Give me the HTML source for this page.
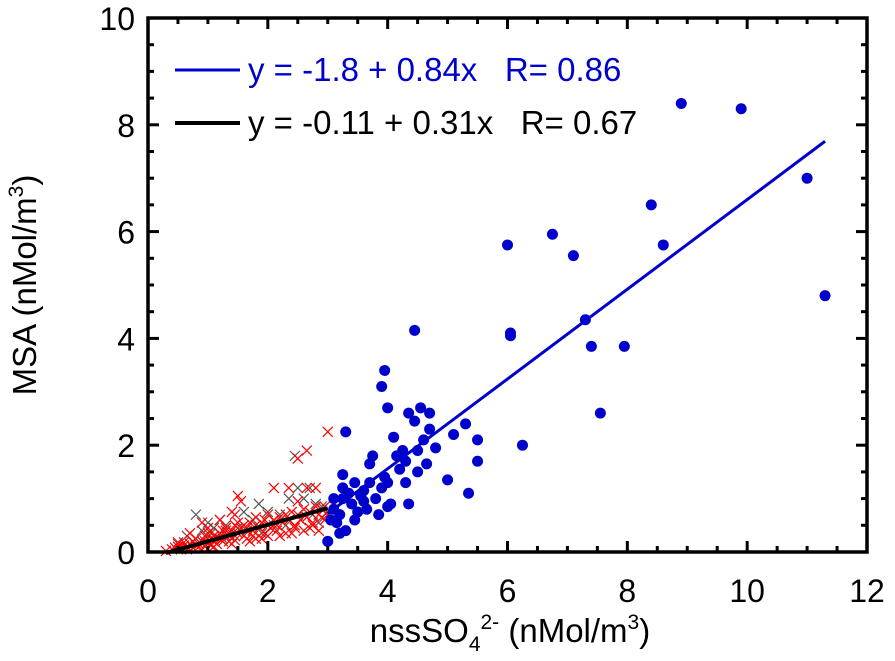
<!DOCTYPE html>
<html><head><meta charset="utf-8"><style>
body{margin:0;background:#fff}
svg{display:block;font-family:"Liberation Sans",sans-serif}
</style></head><body>
<svg id="chart" width="895" height="661">
<g id="marks"></g>
<g id="axes"></g>
<text x="36" y="285" font-size="33" text-anchor="middle" transform="rotate(-90 36 285)">MSA (nMol/m<tspan font-size="21" dy="-13">3</tspan><tspan dy="13">)</tspan></text>
<text x="510" y="642" font-size="33" text-anchor="middle">nssSO<tspan font-size="21" dy="9">4</tspan><tspan font-size="21" dy="-22">2-</tspan><tspan dy="13"> (nMol/m</tspan><tspan font-size="21" dy="-13">3</tspan><tspan dy="13">)</tspan></text>
<g>
<line x1="175" y1="70" x2="240" y2="70" stroke="#0000cc" stroke-width="3"/>
<text x="248" y="81" font-size="33" fill="#0000cc" xml:space="preserve">y = -1.8 + 0.84x   R= 0.86</text>
<line x1="175" y1="123" x2="240" y2="123" stroke="#000" stroke-width="4"/>
<text x="248" y="134" font-size="33" fill="#000" xml:space="preserve">y = -0.11 + 0.31x   R= 0.67</text>
</g>
</svg>
<script>
const xTicks=[0,2,4,6,8,10,12];
const yTicks=[0,2,4,6,8,10];
const blueX=[3.0,3.05,3.1,3.15,3.2,3.2,3.25,3.25,3.25,3.3,3.35,3.4,3.45,3.5,3.55,3.6,3.65,3.7,3.75,3.8,3.85,3.9,3.95,3.9,3.95,4.0,4.0,4.05,4.1,4.15,4.2,4.25,4.3,4.3,4.35,4.35,4.45,4.5,4.55,4.6,4.65,4.7,4.7,4.8,5.0,5.1,5.3,5.35,5.5,5.5,6.0,6.05,6.05,6.25,6.75,7.1,7.3,7.4,7.55,7.95,8.4,8.6,8.9,9.9,11.0,11.3,3.1,3.3,3.45,3.7,3.6,4.0,4.5,4.45];
const blueY=[0.2,0.6,0.8,0.55,0.7,0.35,1.0,1.2,1.45,2.25,1.1,0.9,0.6,0.75,1.05,1.15,0.8,1.65,1.8,1.0,0.7,1.2,1.4,3.1,3.4,2.7,1.3,0.9,2.15,1.8,1.55,1.9,1.7,1.3,0.9,2.6,4.15,1.9,2.7,2.1,1.65,2.6,2.3,1.95,1.35,2.2,2.4,1.1,2.1,1.7,5.75,4.05,4.1,2.0,5.95,5.55,4.35,3.85,2.6,3.85,6.5,5.75,8.4,8.3,7.0,4.8,1.0,0.4,1.3,1.3,0.95,0.85,1.5,2.45];
const redX=[0.3,0.4,0.45,0.5,0.55,0.6,0.6,0.65,0.7,0.75,0.8,0.8,0.85,0.9,0.95,1.0,1.0,1.05,1.1,1.1,1.15,1.2,1.2,1.25,1.3,1.3,1.35,1.4,1.45,1.5,1.5,1.55,1.6,1.6,1.65,1.7,1.75,1.8,1.8,1.85,1.9,1.95,2.0,2.0,2.05,2.1,2.15,2.2,2.25,2.3,2.35,2.4,2.45,2.5,2.55,2.6,2.65,2.7,2.75,2.8,2.85,2.9,2.95,3.0,0.7,0.9,1.0,1.2,1.4,1.5,1.55,1.45,2.1,2.35,2.5,2.65,2.8,2.95,1.3,1.7,1.9,2.2,2.4,2.6,0.5,0.85,1.15,1.35,1.65,2.0,2.3,2.7,2.9,1.1,1.4,1.8,0.65,0.75,0.95,1.05,1.25,1.45,1.75,1.95,2.15,2.45,2.75,2.85];
const redY=[0.02,0.05,0.08,0.1,0.05,0.12,0.18,0.1,0.15,0.2,0.12,0.25,0.15,0.2,0.3,0.18,0.35,0.25,0.3,0.2,0.28,0.35,0.25,0.4,0.3,0.45,0.35,0.4,0.5,0.35,0.55,0.45,0.5,0.3,0.45,0.55,0.4,0.5,0.65,0.45,0.55,0.6,0.5,0.7,0.45,0.6,0.5,0.65,0.55,0.7,0.6,0.75,0.5,0.7,0.6,0.8,0.65,0.75,0.55,0.85,0.7,0.8,0.6,0.7,0.35,0.55,0.45,0.6,0.75,1.05,0.95,0.7,1.2,1.2,0.95,1.2,1.2,0.85,0.4,0.2,0.25,0.3,0.35,0.4,0.18,0.1,0.15,0.2,0.25,0.3,0.35,0.45,0.65,0.1,0.15,0.25,0.05,0.08,0.1,0.12,0.2,0.22,0.3,0.35,0.4,0.45,0.5,0.4];
const redX2=[3.0,2.5,2.65];
const redY2=[2.25,1.75,1.9];
const grayX=[0.5,0.65,0.8,0.9,1.0,1.1,1.2,1.3,1.45,1.6,1.75,1.85,2.0,2.1,2.2,2.35,2.5,2.6,2.7,2.8,2.9,3.0,0.95,1.25,1.5,1.9,2.3,2.45,2.55,2.75,2.85,1.05,1.35,1.65,2.05];
const grayY=[0.15,0.3,0.7,0.4,0.55,0.45,0.6,0.5,0.3,0.75,0.6,0.9,0.75,0.5,0.7,1.0,1.2,1.0,1.2,0.9,0.85,0.75,0.2,0.25,0.45,0.35,0.5,1.8,0.6,0.7,0.55,0.35,0.3,0.4,0.45];
const blueFit=[-1.8,0.84], blueRange=[3.0,11.3];
const blackFit=[-0.11,0.31], blackRange=[0.3,3.0];

const L=148,R=867,T=18,B=552;
const sx=v=>L+(v/12)*(R-L);
const sy=v=>B-(v/10)*(B-T);
const NS="http://www.w3.org/2000/svg";
const marks=document.getElementById('marks'),axes=document.getElementById('axes');
function mk(tag,attrs,parent){const e=document.createElementNS(NS,tag);for(const k in attrs)e.setAttribute(k,attrs[k]);parent.appendChild(e);return e;}
function cross(x,y,col,name){const s=5;const g=mk('path',{d:`M${x-s},${y-s}L${x+s},${y+s}M${x-s},${y+s}L${x+s},${y-s}`,stroke:col,'stroke-width':1.2,fill:'none'},marks);

}
grayX.forEach((v,i)=>cross(sx(v),sy(grayY[i]),'#555','gray-point'));
redX.forEach((v,i)=>cross(sx(v),sy(redY[i]),'#ff0000','red-point'));
redX2.forEach((v,i)=>cross(sx(v),sy(redY2[i]),'#ff0000','red-point'));
blueX.forEach((v,i)=>{const c=mk('circle',{cx:sx(v),cy:sy(blueY[i]),r:5.5,fill:'#0000cc'},marks);

});
const bl=mk('line',{x1:sx(blackRange[0]),y1:sy(blackFit[0]+blackFit[1]*blackRange[0]),x2:sx(blackRange[1]),y2:sy(blackFit[0]+blackFit[1]*blackRange[1]),stroke:'#000','stroke-width':4},marks);


const bu=mk('line',{x1:sx(blueRange[0]),y1:sy(blueFit[0]+blueFit[1]*blueRange[0]),x2:sx(blueRange[1]),y2:sy(blueFit[0]+blueFit[1]*blueRange[1]),stroke:'#0000cc','stroke-width':3},marks);


const fr=mk('rect',{x:L,y:T,width:R-L,height:B-T,fill:'none',stroke:'#000','stroke-width':3.5},axes);


for(let v=0;v<=12.001;v+=0.5){const major=Math.abs(v%2)<0.01;const len=major?11:6;const x=sx(v);
mk('line',{x1:x,y1:B,x2:x,y2:B-len,stroke:'#000','stroke-width':3},axes);
mk('line',{x1:x,y1:T,x2:x,y2:T+len,stroke:'#000','stroke-width':3},axes);}
for(let v=0;v<=10.001;v+=0.5){const major=Math.abs(v%2)<0.01;const len=major?11:6;const y=sy(v);
mk('line',{x1:L,y1:y,x2:L+len,y2:y,stroke:'#000','stroke-width':3},axes);
mk('line',{x1:R,y1:y,x2:R-len,y2:y,stroke:'#000','stroke-width':3},axes);}
xTicks.forEach(v=>{const t=mk('text',{x:sx(v),y:B+50,'font-size':32,'text-anchor':'middle'},axes);t.textContent=v;

});
yTicks.forEach(v=>{const t=mk('text',{x:L-13,y:sy(v)+12,'font-size':32,'text-anchor':'end'},axes);t.textContent=v;

});
</script>
</body></html>
